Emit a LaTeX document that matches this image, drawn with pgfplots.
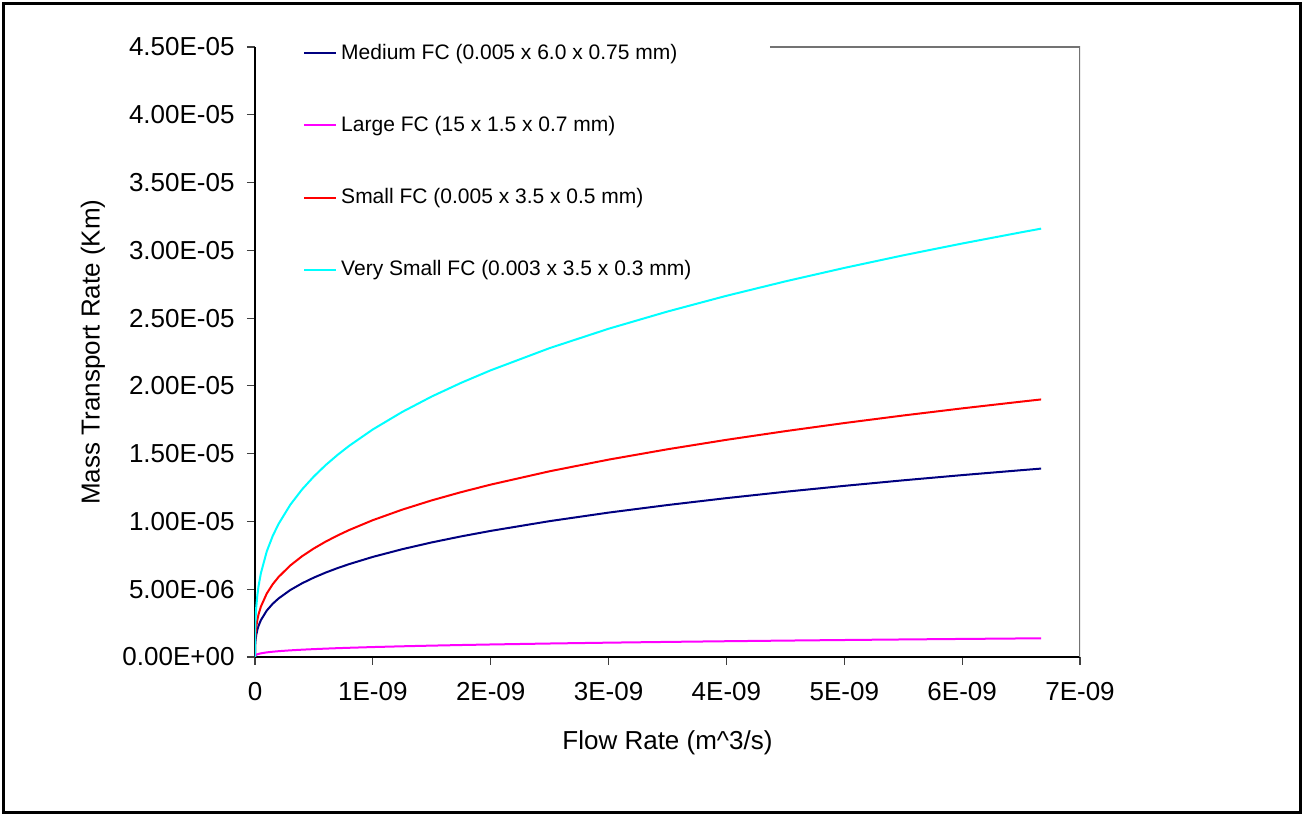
\documentclass[border=0pt]{standalone}
\usepackage{fontspec}
\setmainfont{Liberation Sans}
\usepackage{pgfplots}
\usepackage{pgfplotstable}
\pgfplotsset{compat=1.18}
\definecolor{cnavy}{RGB}{0,0,128}
\definecolor{cmag}{RGB}{255,0,255}
\definecolor{cred}{RGB}{255,0,0}
\definecolor{ccyan}{RGB}{0,255,255}
\pgfplotstableread{
x        med        large      small      vsmall
0        0          0          0          0
2e-12    9.30e-7    9.23e-8    1.271e-6   2.114e-6
5e-12    1.264e-6   1.254e-7   1.727e-6   2.872e-6
1e-11    1.592e-6   1.580e-7   2.176e-6   3.618e-6
2e-11    2.004e-6   1.990e-7   2.740e-6   4.557e-6
3e-11    2.295e-6   2.278e-7   3.137e-6   5.217e-6
5e-11    2.720e-6   2.701e-7   3.718e-6   6.184e-6
1e-10    3.428e-6   3.403e-7   4.685e-6   7.793e-6
1.5e-10  3.924e-6   3.896e-7   5.364e-6   8.921e-6
2e-10    4.319e-6   4.288e-7   5.903e-6   9.818e-6
3e-10    4.943e-6   4.907e-7   6.756e-6   1.1237e-5
4e-10    5.440e-6   5.401e-7   7.437e-6   1.2368e-5
5e-10    5.860e-6   5.818e-7   8.010e-6   1.3323e-5
6e-10    6.229e-6   6.184e-7   8.514e-6   1.4160e-5
7e-10    6.557e-6   6.509e-7   8.962e-6   1.4906e-5
8e-10    6.855e-6   6.806e-7   9.371e-6   1.5585e-5
1e-9     7.385e-6   7.332e-7   1.0095e-5  1.6789e-5
1.25e-9  7.954e-6   7.896e-7   1.0872e-5  1.8082e-5
1.5e-9   8.454e-6   8.393e-7   1.1556e-5  1.9219e-5
1.75e-9  8.899e-6   8.835e-7   1.2164e-5  2.0230e-5
2e-9     9.303e-6   9.236e-7   1.2717e-5  2.1150e-5
2.5e-9   1.0023e-5  9.951e-7   1.3701e-5  2.2787e-5
3e-9     1.0652e-5  1.0575e-6  1.4560e-5  2.4215e-5
3.5e-9   1.1210e-5  1.1130e-6  1.5324e-5  2.5485e-5
4e-9     1.1720e-5  1.1636e-6  1.6021e-5  2.6645e-5
4.5e-9   1.2189e-5  1.2101e-6  1.6661e-5  2.7710e-5
5e-9     1.2625e-5  1.2535e-6  1.7258e-5  2.8702e-5
5.5e-9   1.3034e-5  1.2940e-6  1.7816e-5  2.9631e-5
6e-9     1.3418e-5  1.3321e-6  1.8341e-5  3.0503e-5
6.5e-9   1.3780e-5  1.3681e-6  1.8837e-5  3.1328e-5
6.67e-9  1.3900e-5  1.3800e-6  1.9000e-5  3.1600e-5
}\datatable
\begin{document}
\begin{tikzpicture}
\useasboundingbox ({-255*0.5pt},{657*0.5pt}) rectangle ({(1304-255)*0.5pt},{(657-817)*0.5pt});
\draw[line width=1.5pt] ({(4-255)*0.5pt},{(657-4)*0.5pt}) rectangle ({(1300-255)*0.5pt},{(657-813)*0.5pt});
\begin{axis}[
  at={(0,0)}, anchor=south west,
  scale only axis, width=412.5pt, height=305pt,
  xmin=0, xmax=7e-9, ymin=0, ymax=4.5e-5,
  axis x line*=bottom, axis y line*=left,
  axis line style={line width=0.8pt, black},
  xtick={0,1e-9,2e-9,3e-9,4e-9,5e-9,6e-9,7e-9},
  xticklabels={0,1E-09,2E-09,3E-09,4E-09,5E-09,6E-09,7E-09},
  ytick={0,5e-6,1e-5,1.5e-5,2e-5,2.5e-5,3e-5,3.5e-5,4e-5,4.5e-5},
  yticklabels={0.00E+00,5.00E-06,1.00E-05,1.50E-05,2.00E-05,2.50E-05,3.00E-05,3.50E-05,4.00E-05,4.50E-05},
  scaled ticks=false,
  tick align=outside, major tick length=4pt,
  tick style={line width=0.6pt, black!75},
  tick label style={font=\fontsize{13}{15}\selectfont},
  xticklabel style={yshift=-5pt},
  yticklabel style={xshift=-2.7pt},
  xlabel={Flow Rate (m\textasciicircum 3/s)},
  ylabel={Mass Transport Rate (Km)},
  label style={font=\fontsize{13}{15}\selectfont},
  xlabel style={at={(axis description cs:0.5,-0.141)}, anchor=center},
  ylabel style={at={(axis description cs:-0.1964,0.5)}, anchor=center},
  legend style={at={(rel axis cs:0.058,1.012)}, anchor=north west, draw=none, fill=white,
    font=\fontsize{10.5}{12}\selectfont, row sep=23pt, inner sep=0pt},
  legend cell align=left,
  legend image code/.code={\draw[#1] (0pt,0pt) -- (16pt,0pt);},
]
\draw[black!55, line width=0.6pt] (rel axis cs:0.6242,1) -- (rel axis cs:1,1) -- (rel axis cs:1,0);
\addplot[cnavy, line width=1pt] table[x=x, y=med] {\datatable};
\addlegendentry{Medium FC (0.005 x 6.0 x 0.75 mm)}
\addplot[cmag, line width=1pt] table[x=x, y=large] {\datatable};
\addlegendentry{Large FC (15 x 1.5 x 0.7 mm)}
\addplot[cred, line width=1pt] table[x=x, y=small] {\datatable};
\addlegendentry{Small FC (0.005 x 3.5 x 0.5 mm)}
\addplot[ccyan, line width=1pt] table[x=x, y=vsmall] {\datatable};
\addlegendentry{Very Small FC (0.003 x 3.5 x 0.3 mm)}
\end{axis}
\end{tikzpicture}
\end{document}
